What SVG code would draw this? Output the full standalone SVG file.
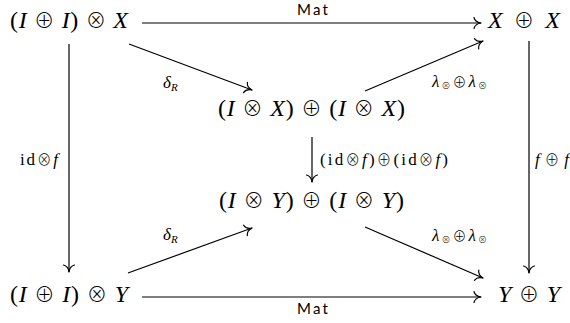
<svg xmlns="http://www.w3.org/2000/svg" width="570" height="323" viewBox="0 0 570 323">
<style>
.m{font-family:"Liberation Serif","DejaVu Serif",serif;font-size:24px;fill:#000}
.l{font-family:"Liberation Serif","DejaVu Serif",serif;font-size:17px;fill:#000}
.s{font-family:Lato,"Liberation Sans",sans-serif;font-size:15px;fill:#000}
.i{font-style:italic}
.o{font-family:"Noto Sans CJK JP","DejaVu Sans",sans-serif;font-weight:300;font-size:85%}
.c{stroke:#000;stroke-width:1.2;fill:none}
</style>
<defs>
<marker id="ah" viewBox="-10 -8 12 16" markerWidth="12" markerHeight="16" refX="0" refY="0" orient="auto" markerUnits="userSpaceOnUse" overflow="visible">
<path d="M-7,-5.5 C-6.2,-2.2 -3,-0.4 0,0 M-7,5.5 C-6.2,2.2 -3,0.4 0,0" fill="none" stroke="#000" stroke-width="1.2" stroke-linecap="round"/>
</marker>
</defs>
<g id="connectors">
<line class="c" x1="142" y1="23" x2="481" y2="23" marker-end="url(#ah)"/>
<line class="c" x1="142" y1="297" x2="481" y2="297" marker-end="url(#ah)"/>
<line class="c" x1="69" y1="44" x2="69" y2="272" marker-end="url(#ah)"/>
<line class="c" x1="529" y1="41" x2="529" y2="273" marker-end="url(#ah)"/>
<line class="c" x1="312" y1="137" x2="312" y2="182" marker-end="url(#ah)"/>
<line class="c" x1="129" y1="44" x2="252" y2="90" marker-end="url(#ah)"/>
<line class="c" x1="365" y1="91" x2="483" y2="41" marker-end="url(#ah)"/>
<line class="c" x1="128" y1="273" x2="252" y2="228" marker-end="url(#ah)"/>
<line class="c" x1="365" y1="227" x2="483" y2="278" marker-end="url(#ah)"/>
<text class="s" x="297" y="15" textLength="31">Mat</text>
<text class="s" x="297" y="314" textLength="31">Mat</text>
<text class="l" x="163" y="88"><tspan class="i" font-size="17">δ</tspan><tspan class="i" font-size="11" dy="3">R</tspan></text>
<text class="l" x="163" y="240"><tspan class="i" font-size="17">δ</tspan><tspan class="i" font-size="11" dy="3">R</tspan></text>
<text class="l" x="432" y="87" font-size="15" textLength="55"><tspan class="i">λ</tspan><tspan class="o" style="font-size:9px" dy="2">⊗</tspan><tspan class="o" style="font-size:14px" dy="-2">⊕</tspan><tspan class="i">λ</tspan><tspan class="o" style="font-size:9px" dy="2">⊗</tspan></text>
<text class="l" x="432" y="241" font-size="15" textLength="55"><tspan class="i">λ</tspan><tspan class="o" style="font-size:9px" dy="2">⊗</tspan><tspan class="o" style="font-size:14px" dy="-2">⊕</tspan><tspan class="i">λ</tspan><tspan class="o" style="font-size:9px" dy="2">⊗</tspan></text>
<text class="l" x="20" y="165" textLength="38">id<tspan class="o">⊗</tspan><tspan class="i">f</tspan></text>
<text class="l" x="320" y="165" textLength="128">(id<tspan class="o">⊗</tspan><tspan class="i">f</tspan>)<tspan class="o">⊕</tspan>(id<tspan class="o">⊗</tspan><tspan class="i">f</tspan>)</text>
<text class="l" x="535" y="165" textLength="34"><tspan class="i">f</tspan><tspan class="o">⊕</tspan><tspan class="i">f</tspan></text>
</g>
<g id="n1"><text class="m" x="10" y="28" textLength="118">(<tspan class="i">I</tspan> <tspan class="o">⊕</tspan> <tspan class="i">I</tspan>) <tspan class="o">⊗</tspan> <tspan class="i">X</tspan></text></g>
<g id="n2"><text class="m" x="488" y="28" textLength="72"><tspan class="i">X</tspan> <tspan class="o">⊕</tspan> <tspan class="i">X</tspan></text></g>
<g id="n3"><text class="m" x="218" y="116" textLength="187">(<tspan class="i">I</tspan> <tspan class="o">⊗</tspan> <tspan class="i">X</tspan>) <tspan class="o">⊕</tspan> (<tspan class="i">I</tspan> <tspan class="o">⊗</tspan> <tspan class="i">X</tspan>)</text></g>
<g id="n4"><text class="m" x="219" y="208" textLength="185">(<tspan class="i">I</tspan> <tspan class="o">⊗</tspan> <tspan class="i">Y</tspan>) <tspan class="o">⊕</tspan> (<tspan class="i">I</tspan> <tspan class="o">⊗</tspan> <tspan class="i">Y</tspan>)</text></g>
<g id="n5"><text class="m" x="10" y="302" textLength="118">(<tspan class="i">I</tspan> <tspan class="o">⊕</tspan> <tspan class="i">I</tspan>) <tspan class="o">⊗</tspan> <tspan class="i">Y</tspan></text></g>
<g id="n6"><text class="m" x="498" y="302" textLength="62"><tspan class="i">Y</tspan> <tspan class="o">⊕</tspan> <tspan class="i">Y</tspan></text></g>
</svg>
